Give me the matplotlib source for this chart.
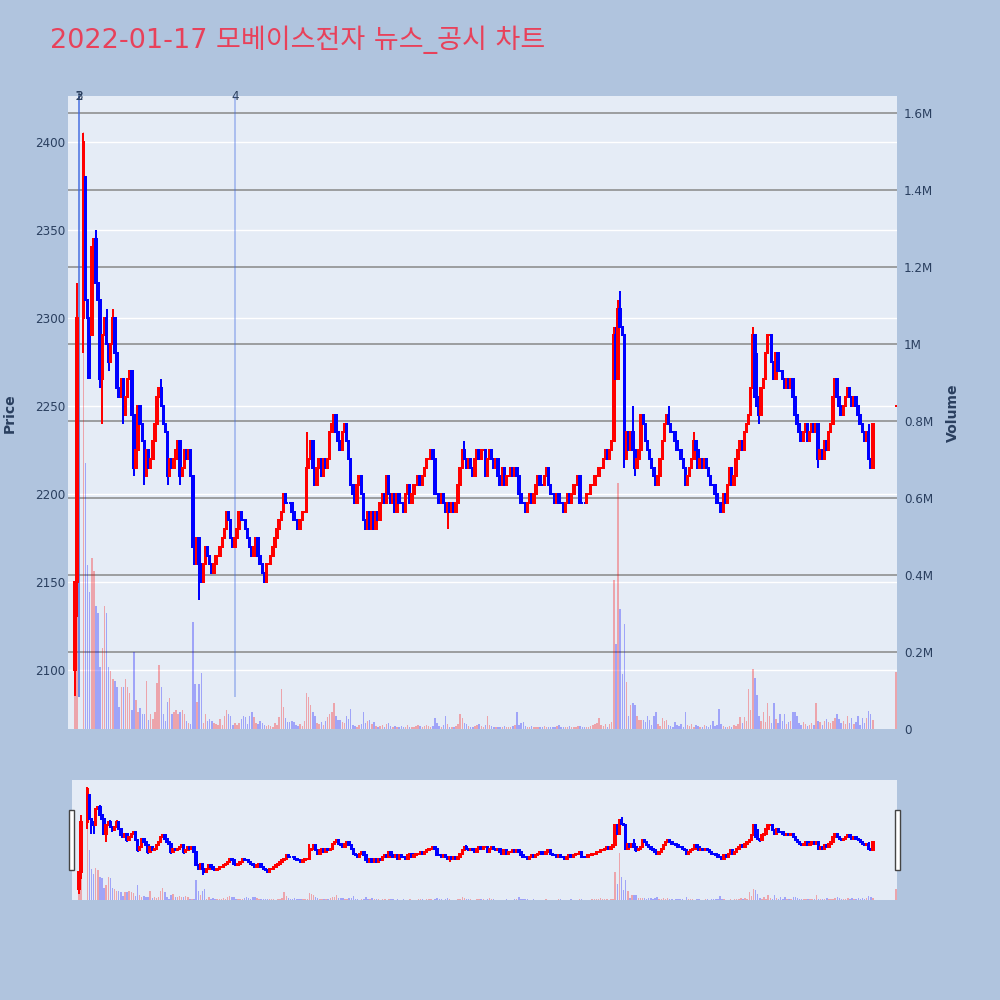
import math
import matplotlib
matplotlib.use("Agg")
import matplotlib.pyplot as plt
from matplotlib.patches import Rectangle
from matplotlib.lines import Line2D

# ---------------------------------------------------------------- data
TITLE = "2022-01-17 모베이스전자 뉴스_공시 차트"

# one-minute closing prices (KRW), 09:00 onward; None = no trades (VI halt)
close_09 = [2150, 2300, None, None, 2400, 2310, 2300, 2290, 2340, 2345,
            2320, 2310, 2265, 2290, 2300, 2285, 2275, 2285, 2300, 2280,
            2260, 2255, 2265, 2245, 2255, 2265, 2270, 2245, 2215, 2225,
            2250, 2240, 2230, 2210, 2225, 2215, 2220, 2230, 2240, 2255,
            2260, 2250, 2240, 2235, 2210, 2220, 2215, 2220, 2225, 2230,
            2210, 2215, 2225, 2220, 2225, 2210, 2170, 2160, 2175, 2160]
close_10 = [2150, 2160, 2170, 2165, 2160, 2155, 2160, 2165, 2165, 2170,
            2175, 2180, 2190, 2185, 2175, 2170, 2175, 2180, 2190, 2185,
            2185, 2180, 2175, 2170, 2165, 2170, 2175, 2165, 2160, 2155,
            2150, 2160, 2160, 2165, 2170, 2175, 2180, 2185, 2190, 2200,
            2195, 2195, 2195, 2190, 2185, 2185, 2180, 2185, 2190, 2190,
            2215, 2220, 2230, 2215, 2205, 2215, 2220, 2210, 2220, 2215]
close_11 = [2220, 2235, 2240, 2245, 2235, 2230, 2225, 2235, 2240, 2230,
            2220, 2205, 2200, 2195, 2205, 2210, 2200, 2185, 2180, 2190,
            2180, 2190, 2180, 2190, 2185, 2195, 2200, 2195, 2210, 2200,
            2195, 2200, 2190, 2200, 2195, 2195, 2190, 2200, 2205, 2195,
            2200, 2205, 2205, 2210, 2205, 2210, 2215, 2220, 2220, 2225,
            2220, 2200, 2200, 2195, 2200, 2195, 2190, 2195, 2190, 2195]
close_12 = [2190, 2195, 2205, 2215, 2225, 2220, 2215, 2220, 2215, 2210,
            2220, 2225, 2220, 2225, 2225, 2210, 2220, 2225, 2220, 2215,
            2220, 2210, 2205, 2215, 2205, 2210, 2210, 2215, 2210, 2215,
            2210, 2200, 2195, 2195, 2190, 2195, 2200, 2195, 2200, 2205,
            2210, 2205, 2205, 2210, 2215, 2205, 2200, 2200, 2195, 2200,
            2195, 2195, 2190, 2195, 2200, 2195, 2200, 2205, 2205, 2210]
close_13 = [2195, 2195, 2195, 2200, 2200, 2205, 2205, 2210, 2210, 2215,
            2215, 2220, 2225, 2220, 2225, 2230, 2290, 2265, 2305, 2295,
            2290, 2220, 2235, 2225, 2235, 2225, 2215, 2220, 2225, 2245,
            2240, 2230, 2225, 2220, 2215, 2210, 2205, 2210, 2220, 2230,
            2240, 2245, 2240, 2235, 2235, 2230, 2225, 2225, 2220, 2215,
            2205, 2210, 2215, 2220, 2230, 2225, 2215, 2220, 2215, 2220]
close_14 = [2215, 2210, 2205, 2205, 2200, 2195, 2195, 2190, 2200, 2195,
            2205, 2215, 2205, 2210, 2220, 2225, 2230, 2225, 2235, 2240,
            2245, 2260, 2290, 2255, 2250, 2245, 2260, 2265, 2280, 2290,
            2290, 2275, 2265, 2280, 2270, 2270, 2265, 2260, 2265, 2260,
            2265, 2255, 2245, 2240, 2235, 2230, 2235, 2240, 2230, 2235,
            2240, 2235, 2240, 2220, 2225, 2220, 2230, 2225, 2235, 2240]
close_15 = [2255, 2265, 2255, 2250, 2245, 2250, 2255, 2260, 2255, 2250,
            2255, 2250, 2245, 2240, 2235, 2230, 2235, 2220, 2215, 2240]
first_open = 2100
auction_minute = 390          # 15:30 closing auction
auction_price = 2250

# opens that differ from the previous close (minute -> price)
open_gaps = {5: 2380}

# wicks beyond the candle bodies (minute -> price)
high_wicks = {1: 2320, 4: 2405, 10: 2350, 15: 2305, 18: 2305,
              27: 2265, 41: 2265, 110: 2235, 170: 2225, 185: 2230,
              256: 2295, 257: 2295, 258: 2310, 259: 2315, 261: 2290,
              265: 2250, 282: 2250, 294: 2235, 322: 2295, 323: 2290,
              324: 2280, 353: 2240, 377: 2240}
low_wicks = {0: 2085, 1: 2130, 4: 2280, 6: 2265, 7: 2265, 12: 2260,
             13: 2240, 16: 2270, 23: 2240, 28: 2210, 33: 2205, 44: 2205,
             50: 2205, 59: 2140, 177: 2180, 261: 2215, 266: 2210,
             325: 2240, 353: 2215}

# one-minute volume, thousands of shares
vol_09 = [250, 600, None, None, 1550, 690, 425, 355, 445, 410,
          320, 300, 160, 210, 320, 300, 160, 150, 130, 125,
          110, 57, 110, 108, 130, 108, 93, 50, 200, 75,
          45, 55, 40, 40, 125, 23, 40, 25, 45, 120,
          165, 110, 40, 20, 70, 80, 40, 45, 50, 40,
          45, 50, 40, 20, 15, 12, 277, 118, 70, 118]
vol_10 = [145, 15, 40, 20, 25, 20, 15, 12, 10, 25,
          10, 35, 50, 40, 35, 10, 15, 10, 15, 25,
          35, 30, 12, 35, 45, 30, 15, 12, 20, 15,
          10, 8, 10, 8, 6, 15, 10, 30, 103, 58,
          28, 18, 18, 22, 18, 10, 8, 12, 8, 20,
          93, 83, 63, 43, 33, 15, 13, 18, 10, 20]
vol_11 = [30, 40, 43, 68, 33, 23, 23, 18, 15, 33,
          25, 53, 10, 8, 6, 10, 12, 43, 15, 20,
          23, 12, 18, 8, 6, 8, 10, 6, 12, 15,
          8, 5, 8, 5, 6, 8, 5, 6, 10, 5,
          6, 4, 8, 10, 8, 6, 8, 10, 8, 6,
          8, 28, 15, 8, 6, 10, 33, 12, 6, 5]
vol_12 = [6, 8, 12, 38, 28, 15, 13, 8, 6, 5,
          8, 10, 12, 8, 6, 10, 33, 10, 8, 5,
          6, 5, 4, 6, 8, 5, 4, 6, 8, 10,
          43, 10, 15, 18, 8, 6, 5, 8, 6, 4,
          5, 6, 4, 8, 5, 6, 5, 4, 6, 8,
          10, 6, 5, 4, 6, 8, 5, 4, 6, 8]
vol_13 = [8, 5, 4, 6, 5, 8, 10, 12, 15, 28,
          10, 8, 12, 6, 13, 18, 386, 222, 640, 311,
          142, 272, 122, 33, 63, 68, 63, 33, 23, 23,
          23, 18, 33, 23, 10, 33, 43, 13, 8, 28,
          20, 23, 10, 8, 6, 18, 10, 8, 13, 6,
          43, 10, 8, 12, 6, 10, 8, 6, 5, 10]
vol_14 = [8, 6, 10, 20, 8, 10, 53, 12, 8, 6,
          5, 8, 6, 10, 8, 12, 30, 15, 30, 20,
          103, 50, 157, 132, 88, 33, 20, 43, 18, 68,
          33, 15, 68, 25, 15, 38, 20, 38, 12, 18,
          20, 43, 43, 33, 15, 10, 18, 12, 8, 10,
          15, 10, 68, 20, 18, 10, 20, 25, 18, 15]
vol_15 = [20, 28, 38, 25, 15, 20, 12, 33, 15, 28,
          12, 18, 33, 10, 28, 15, 28, 48, 38, 23]
auction_volume = 147

# news / disclosure markers: (label, minute after 09:00)
news_labels = ["1", "2", "3", "4"]
news_minutes = [1.9, 1.9, 1.9, 76]

price_ticks = [2100, 2150, 2200, 2250, 2300, 2350, 2400]
volume_ticks = [0, 0.2e6, 0.4e6, 0.6e6, 0.8e6, 1.0e6, 1.2e6, 1.4e6, 1.6e6]
volume_tick_labels = ["0", "0.2M", "0.4M", "0.6M", "0.8M", "1M", "1.2M", "1.4M", "1.6M"]
hour_ticks = [0, 60, 120, 180, 240, 300, 360]
hour_labels = ["09:00\nJan 17, 2022", "10:00", "11:00", "12:00", "13:00", "14:00", "15:00"]

# ---------------------------------------------------------------- build OHLC
closes = close_09 + close_10 + close_11 + close_12 + close_13 + close_14 + close_15
vols = vol_09 + vol_10 + vol_11 + vol_12 + vol_13 + vol_14 + vol_15
minutes = list(range(len(closes))) + [auction_minute]
closes = closes + [auction_price]
vols = vols + [auction_volume]

candles = []   # (minute, open, high, low, close, volume, increasing)
prev_close = None
prev_dir = True
for m, c, v in zip(minutes, closes, vols):
    if c is None:
        continue
    o = first_open if prev_close is None else prev_close
    o = open_gaps.get(m, o)
    if m == auction_minute:
        o = c
    h = max(o, c, high_wicks.get(m, -math.inf))
    lo = min(o, c, low_wicks.get(m, math.inf))
    if c > o:
        inc = True
    elif c < o:
        inc = False
    elif prev_close is not None and c != prev_close:
        inc = c > prev_close
    else:
        inc = prev_dir
    candles.append((m, o, h, lo, c, v * 1000.0, inc))
    prev_close, prev_dir = c, inc

# ---------------------------------------------------------------- style
FIG_BG = "#B0C4DE"
PLOT_BG = "#E5ECF6"
TXT = "#2a3f5f"
UP = "#FF0000"
DOWN = "#0000FF"
PX = 0.72  # points per pixel at dpi 100

plt.rcParams['font.family'] = ['DejaVu Sans', 'Noto Sans CJK KR']

fig = plt.figure(figsize=(10, 10), dpi=100, facecolor=FIG_BG)

X_MIN, X_MAX = -3.3, 390.5
P_MIN, P_MAX = 2066.5, 2426.0
V_MAX = 1.644e6


def draw_candles(ax, lw_body, lw_wick, body_w):
    for m, o, h, lo, c, v, inc in candles:
        col = UP if inc else DOWN
        ax.plot([m, m], [lo, h], color=col, lw=lw_wick, solid_capstyle='butt', zorder=3)
        ax.add_patch(Rectangle((m - body_w / 2, min(o, c)), body_w, abs(c - o),
                               facecolor=col, edgecolor=col, lw=lw_body, zorder=4))


def draw_volume(axv, width, alpha):
    xs = [cd[0] for cd in candles]
    hs = [cd[5] for cd in candles]
    cs = [(UP if cd[6] else DOWN) for cd in candles]
    axv.bar(xs, hs, width=width, color=cs, alpha=alpha, linewidth=0, zorder=2)


# ---------------------------------------------------------------- main panel
L, R, T, B = 68, 897, 96, 729
axv = fig.add_axes([L / 1000, 1 - B / 1000, (R - L) / 1000, (B - T) / 1000])
axp = axv.twinx()
axp.set_zorder(axv.get_zorder() + 1)
axp.patch.set_visible(False)
axv.set_facecolor(PLOT_BG)

axv.set_xlim(X_MIN, X_MAX)
axv.set_ylim(0, V_MAX)
axp.set_ylim(P_MIN, P_MAX)

# price grid (white) and volume grid (grey), both under the marks
for p in price_ticks:
    f = (p - P_MIN) / (P_MAX - P_MIN)
    axv.add_line(Line2D([0, 1], [f, f], transform=axv.transAxes, color="white",
                        lw=1.4 * PX, zorder=0.5))
for vt in volume_ticks[1:]:
    axv.axhline(vt, color="#8c8c8c", lw=1.6 * PX, zorder=0.6)

draw_volume(axv, 0.7, 0.3)

# news markers
for lab, nm in zip(news_labels, news_minutes):
    axp.plot([nm, nm], [2085, P_MAX], color=(0.25, 0.41, 0.88, 0.35), lw=2 * PX, zorder=2)
    axp.text(nm, P_MAX, lab, ha="center", va="center", fontsize=12 * PX, color=TXT, zorder=6)

draw_candles(axp, lw_body=2 * PX, lw_wick=2 * PX, body_w=0.7)

# axes cosmetics
for a in (axv, axp):
    for s in a.spines.values():
        s.set_visible(False)
    a.tick_params(length=0, colors=TXT, labelsize=12 * PX)

# price axis sits on the left, volume on the right
axp.yaxis.tick_left()
axp.yaxis.set_label_position("left")
axv.yaxis.tick_right()
axv.yaxis.set_label_position("right")
axp.set_yticks(price_ticks)
axp.set_yticklabels([str(p) for p in price_ticks])
axp.tick_params(axis="y", pad=2)
axv.set_yticks(volume_ticks)
axv.set_yticklabels(volume_tick_labels)
axv.tick_params(axis="y", pad=5)
axv.set_xticks(hour_ticks)
axv.set_xticklabels(hour_labels, linespacing=1.25, va="top")
axv.tick_params(axis="x", pad=7)
axp.set_xticks([])

fig.text(10 / 1000, 1 - 413 / 1000, "Price", rotation=90, ha="center", va="center",
         fontsize=14 * PX, color=TXT, fontweight="bold")
fig.text(953 / 1000, 1 - 413 / 1000, "Volume", rotation=90, ha="center", va="center",
         fontsize=14 * PX, color=TXT, fontweight="bold")

fig.text(50 / 1000, 1 - 40 / 1000, TITLE, ha="left", va="center",
         fontsize=27 * PX, color="#E8415A")

# ---------------------------------------------------------------- range slider
RL, RR, RT, RB = 72, 897, 780, 900
rsv = fig.add_axes([RL / 1000, 1 - RB / 1000, (RR - RL) / 1000, (RB - RT) / 1000])
rsp = rsv.twinx()
rsp.set_zorder(rsv.get_zorder() + 1)
rsp.patch.set_visible(False)
rsv.set_facecolor(PLOT_BG)
rsv.set_xlim(X_MIN, X_MAX)
rsv.set_ylim(0, V_MAX)
rsp.set_ylim(P_MIN, P_MAX)
draw_volume(rsv, 0.7, 0.3)
draw_candles(rsp, lw_body=2 * PX, lw_wick=2 * PX, body_w=0.7)
for a in (rsv, rsp):
    for s in a.spines.values():
        s.set_visible(False)
    a.set_xticks([])
    a.set_yticks([])

# slider grips
for gx in (68.5, 894.5):
    fig.patches.append(Rectangle((gx / 1000, 1 - 870 / 1000), 5 / 1000, 60 / 1000,
                                 transform=fig.transFigure, facecolor="white",
                                 edgecolor="#444444", lw=1.0, zorder=10))

fig.savefig("out.png", dpi=100, facecolor=FIG_BG)
